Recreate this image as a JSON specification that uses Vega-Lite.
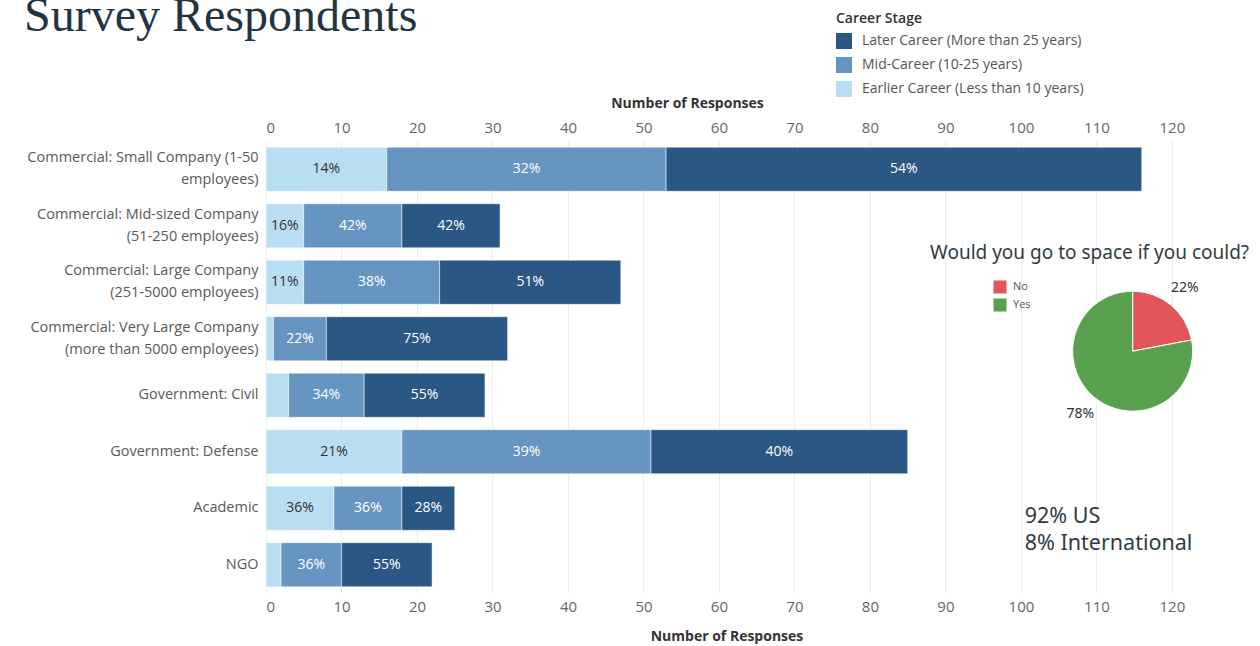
{
  "$schema": "https://vega.github.io/schema/vega-lite/v6.json",
  "width": 921,
  "height": 452,
  "autosize": "none",
  "padding": {"left": 266, "top": 141, "right": 73, "bottom": 53},
  "background": "white",
  "config": {"font": "Open Sans", "view": {"stroke": null}},
  "title": {
    "text": "Survey Respondents",
    "anchor": "start",
    "frame": "group",
    "font": "Liberation Serif",
    "fontSize": 48,
    "fontWeight": "normal",
    "color": "#22343f",
    "dx": -242,
    "dy": 29,
    "offset": 0
  },
  "datasets": {
    "responses": [
      {"org": "Commercial: Small Company (1-50 employees)", "stage": "Earlier Career (Less than 10 years)", "ord": 1, "count": 16, "pct": "14%"},
      {"org": "Commercial: Small Company (1-50 employees)", "stage": "Mid-Career (10-25 years)", "ord": 2, "count": 37, "pct": "32%"},
      {"org": "Commercial: Small Company (1-50 employees)", "stage": "Later Career (More than 25 years)", "ord": 3, "count": 63, "pct": "54%"},
      {"org": "Commercial: Mid-sized Company (51-250 employees)", "stage": "Earlier Career (Less than 10 years)", "ord": 1, "count": 5, "pct": "16%"},
      {"org": "Commercial: Mid-sized Company (51-250 employees)", "stage": "Mid-Career (10-25 years)", "ord": 2, "count": 13, "pct": "42%"},
      {"org": "Commercial: Mid-sized Company (51-250 employees)", "stage": "Later Career (More than 25 years)", "ord": 3, "count": 13, "pct": "42%"},
      {"org": "Commercial: Large Company (251-5000 employees)", "stage": "Earlier Career (Less than 10 years)", "ord": 1, "count": 5, "pct": "11%"},
      {"org": "Commercial: Large Company (251-5000 employees)", "stage": "Mid-Career (10-25 years)", "ord": 2, "count": 18, "pct": "38%"},
      {"org": "Commercial: Large Company (251-5000 employees)", "stage": "Later Career (More than 25 years)", "ord": 3, "count": 24, "pct": "51%"},
      {"org": "Commercial: Very Large Company (more than 5000 employees)", "stage": "Earlier Career (Less than 10 years)", "ord": 1, "count": 1, "pct": "3%"},
      {"org": "Commercial: Very Large Company (more than 5000 employees)", "stage": "Mid-Career (10-25 years)", "ord": 2, "count": 7, "pct": "22%"},
      {"org": "Commercial: Very Large Company (more than 5000 employees)", "stage": "Later Career (More than 25 years)", "ord": 3, "count": 24, "pct": "75%"},
      {"org": "Government: Civil", "stage": "Earlier Career (Less than 10 years)", "ord": 1, "count": 3, "pct": "10%"},
      {"org": "Government: Civil", "stage": "Mid-Career (10-25 years)", "ord": 2, "count": 10, "pct": "34%"},
      {"org": "Government: Civil", "stage": "Later Career (More than 25 years)", "ord": 3, "count": 16, "pct": "55%"},
      {"org": "Government: Defense", "stage": "Earlier Career (Less than 10 years)", "ord": 1, "count": 18, "pct": "21%"},
      {"org": "Government: Defense", "stage": "Mid-Career (10-25 years)", "ord": 2, "count": 33, "pct": "39%"},
      {"org": "Government: Defense", "stage": "Later Career (More than 25 years)", "ord": 3, "count": 34, "pct": "40%"},
      {"org": "Academic", "stage": "Earlier Career (Less than 10 years)", "ord": 1, "count": 9, "pct": "36%"},
      {"org": "Academic", "stage": "Mid-Career (10-25 years)", "ord": 2, "count": 9, "pct": "36%"},
      {"org": "Academic", "stage": "Later Career (More than 25 years)", "ord": 3, "count": 7, "pct": "28%"},
      {"org": "NGO", "stage": "Earlier Career (Less than 10 years)", "ord": 1, "count": 2, "pct": "9%"},
      {"org": "NGO", "stage": "Mid-Career (10-25 years)", "ord": 2, "count": 8, "pct": "36%"},
      {"org": "NGO", "stage": "Later Career (More than 25 years)", "ord": 3, "count": 12, "pct": "55%"}
    ],
    "space": [
      {"answer": "No", "share": 22, "label": "22%"},
      {"answer": "Yes", "share": 78, "label": "78%"}
    ]
  },
  "layer": [
    {
      "data": {"name": "responses"},
      "encoding": {
        "y": {
          "field": "org",
          "type": "nominal",
          "sort": null,
          "scale": {"paddingInner": 0.22, "paddingOuter": 0.11},
          "axis": {
            "title": null,
            "ticks": false,
            "domain": false,
            "labelFontSize": 14.5,
            "labelColor": "#595959",
            "labelPadding": 8,
            "labelLimit": 300,
            "labelLineHeight": 22,
            "labelOffset": {"condition": {"test": "indexof(datum.value, 'Commercial') == 0", "value": -11}, "value": 0},
            "labelExpr": "datum.value == 'Commercial: Small Company (1-50 employees)' ? ['Commercial: Small Company (1-50', 'employees)'] : datum.value == 'Commercial: Mid-sized Company (51-250 employees)' ? ['Commercial: Mid-sized Company', '(51-250 employees)'] : datum.value == 'Commercial: Large Company (251-5000 employees)' ? ['Commercial: Large Company', '(251-5000 employees)'] : datum.value == 'Commercial: Very Large Company (more than 5000 employees)' ? ['Commercial: Very Large Company', '(more than 5000 employees)'] : datum.label"
          }
        }
      },
      "layer": [
        {
          "mark": {"type": "bar", "stroke": "white", "strokeWidth": 0.5},
          "encoding": {
            "x": {
              "field": "count",
              "type": "quantitative",
              "stack": "zero",
              "scale": {"domain": [0, 122], "nice": false},
              "axis": {
                "orient": "bottom",
                "values": [0, 10, 20, 30, 40, 50, 60, 70, 80, 90, 100, 110, 120],
                "grid": true,
                "gridColor": "#ececec",
                "domain": false,
                "ticks": false,
                "labelFontSize": 15,
                "labelColor": "#666666",
                "labelPadding": 6,
                "title": "Number of Responses",
                "titleFontSize": 14,
                "titleFontWeight": "bold",
                "titleColor": "#333333",
                "titlePadding": 15
              }
            },
            "color": {
              "field": "stage",
              "type": "nominal",
              "scale": {
                "domain": ["Later Career (More than 25 years)", "Mid-Career (10-25 years)", "Earlier Career (Less than 10 years)"],
                "range": ["#2a5783", "#6795c1", "#b9ddf1"]
              },
              "legend": {
                "title": "Career Stage",
                "orient": "none",
                "legendX": 570,
                "legendY": -129,
                "symbolType": "square",
                "symbolSize": 256,
                "symbolStrokeWidth": 0,
                "titleFontSize": 14,
                "titleFontWeight": 600,
                "titleColor": "#333333",
                "titlePadding": 7,
                "labelFontSize": 14,
                "labelColor": "#555555",
                "labelOffset": 10,
                "rowPadding": 8,
                "labelLimit": 400
              }
            },
            "order": {"field": "ord", "type": "quantitative"}
          }
        },
        {
          "mark": {"type": "text", "fontSize": 14, "baseline": "middle", "align": "center"},
          "encoding": {
            "x": {
              "field": "count",
              "type": "quantitative",
              "stack": "zero",
              "bandPosition": 0.5,
              "scale": {"domain": [0, 122], "nice": false},
              "axis": {
                "orient": "top",
                "values": [0, 10, 20, 30, 40, 50, 60, 70, 80, 90, 100, 110, 120],
                "grid": false,
                "domain": false,
                "ticks": false,
                "labelFontSize": 15,
                "labelColor": "#666666",
                "labelPadding": 6,
                "title": "Number of Responses",
                "titleFontSize": 14,
                "titleFontWeight": "bold",
                "titleColor": "#333333",
                "titlePadding": 10,
                "titleX": 421
              }
            },
            "detail": {"field": "stage", "type": "nominal"},
            "order": {"field": "ord", "type": "quantitative"},
            "text": {"field": "pct", "type": "nominal"},
            "color": {
              "condition": {"test": "datum.ord == 1", "value": "#333333"},
              "value": "#ffffff"
            },
            "opacity": {
              "condition": {"test": "datum.count < 4", "value": 0},
              "value": 1
            }
          }
        }
      ],
      "resolve": {"axis": {"x": "independent"}}
    },
    {
      "data": {"name": "space"},
      "mark": {"type": "arc", "outerRadius": 60, "stroke": "white", "strokeWidth": 1},
      "encoding": {
        "x": {"datum": 114.8, "type": "quantitative", "scale": {"domain": [0, 122], "nice": false}, "axis": null},
        "y": {"datum": 0.535, "type": "quantitative", "scale": {"domain": [0, 1], "nice": false}, "axis": null},
        "theta": {"field": "share", "type": "quantitative", "stack": true},
        "order": {"field": "answer", "type": "nominal"},
        "color": {
          "field": "answer",
          "type": "nominal",
          "scale": {"domain": ["No", "Yes"], "range": ["#e15759", "#59a14f"]},
          "legend": {
            "title": null,
            "orient": "none",
            "legendX": 727,
            "legendY": 139,
            "symbolType": "square",
            "symbolSize": 170,
            "symbolStrokeWidth": 0,
            "labelFontSize": 11,
            "labelColor": "#555555",
            "labelOffset": 6,
            "rowPadding": 4
          }
        }
      }
    },
    {
      "data": {"name": "space"},
      "mark": {"type": "text", "radius": 82, "fontSize": 14, "color": "#333333", "font": "Noto Sans"},
      "encoding": {
        "x": {"datum": 114.8, "type": "quantitative", "scale": {"domain": [0, 122], "nice": false}, "axis": null},
        "y": {"datum": 0.535, "type": "quantitative", "scale": {"domain": [0, 1], "nice": false}, "axis": null},
        "theta": {"field": "share", "type": "quantitative", "stack": true},
        "order": {"field": "answer", "type": "nominal"},
        "detail": {"field": "answer", "type": "nominal"},
        "text": {"field": "label", "type": "nominal"}
      }
    },
    {
      "data": {"values": [{"note": "Would you go to space if you could?"}]},
      "mark": {"type": "text", "fontSize": 19, "color": "#2f3b44", "font": "Noto Sans", "align": "center", "baseline": "middle"},
      "encoding": {
        "x": {"datum": 109.1, "type": "quantitative", "scale": {"domain": [0, 122], "nice": false}, "axis": null},
        "y": {"datum": 0.752, "type": "quantitative", "scale": {"domain": [0, 1], "nice": false}, "axis": null},
        "text": {"field": "note", "type": "nominal"}
      }
    },
    {
      "data": {"values": [{"note": "92% US\n8% International"}]},
      "mark": {"type": "text", "fontSize": 21.5, "color": "#2f3b44", "font": "Noto Sans", "align": "left", "baseline": "middle", "lineBreak": "\n", "lineHeight": 27},
      "encoding": {
        "x": {"datum": 100.5, "type": "quantitative", "scale": {"domain": [0, 122], "nice": false}, "axis": null},
        "y": {"datum": 0.169, "type": "quantitative", "scale": {"domain": [0, 1], "nice": false}, "axis": null},
        "text": {"field": "note", "type": "nominal"}
      }
    }
  ],
  "resolve": {
    "scale": {"y": "independent", "color": "independent"},
    "axis": {"x": "independent", "y": "independent"}
  }
}
